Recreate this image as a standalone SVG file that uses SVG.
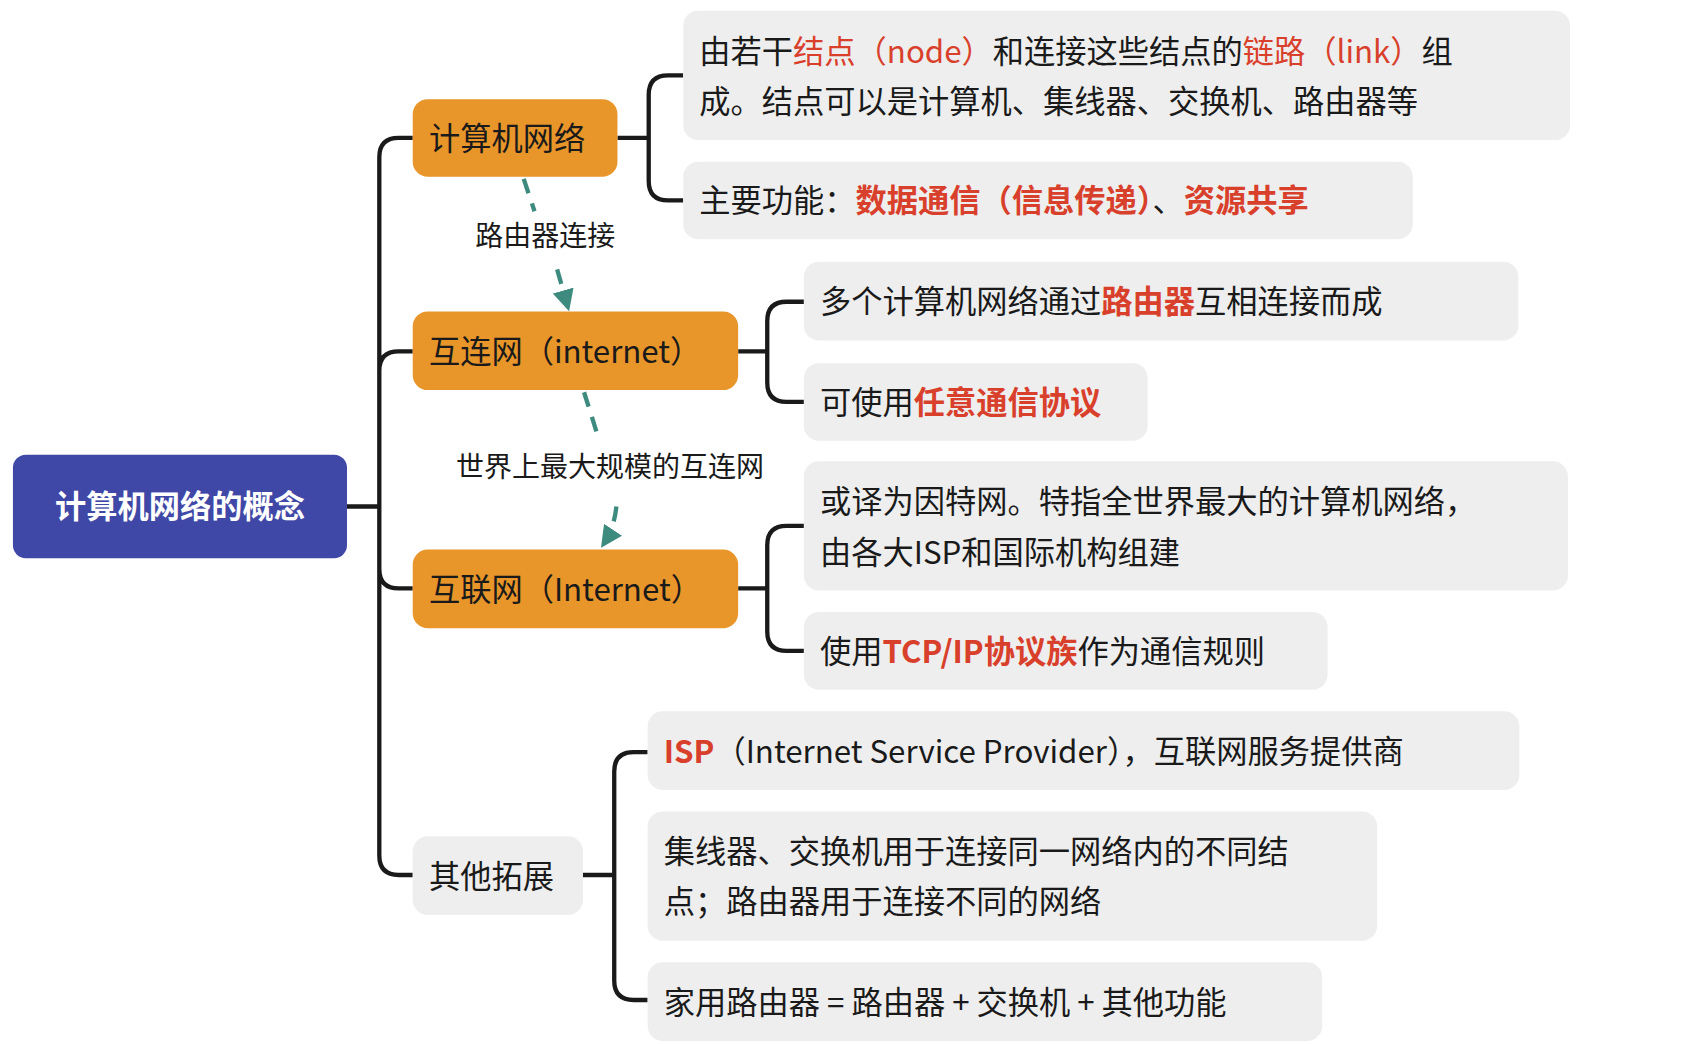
<svg xmlns="http://www.w3.org/2000/svg" width="1682" height="1044" viewBox="0 0 1682 1044">
<style>
text{font-family:"Noto Sans CJK SC","Noto Sans",sans-serif;fill:#1a1a1a}
.lf{font-size:29px}
.r{fill:#d9402b}
.b{font-weight:bold}
.leaf{fill:#eeeeee}
.org{fill:#e8952a}
.ln{fill:none;stroke:#1a1a1a;stroke-width:4}
.da{fill:none;stroke:#3d8a7e;stroke-width:4;stroke-dasharray:14 10}
.lb{font-size:26px}
</style>
<defs><marker id="ar" viewBox="0 0 10 10" refX="8" refY="5" markerWidth="5" markerHeight="5" orient="auto"><path d="M0,0L10,5L0,10z" fill="#3d8a7e"/></marker></defs>
<rect width="1682" height="1044" fill="#fff"/>
<g transform="scale(1.0776)">
<g id="connectors">
<path class="ln" d="M322,470H352M352,470V146Q352,128 370,128H383M352,470V344Q352,326 370,326H383M352,470V528Q352,546 370,546H383M352,470V794Q352,812 370,812H383"/>
<path class="ln" d="M573,128H602M602,128V88Q602,70 620,70H634M602,128V168Q602,186 620,186H634"/>
<path class="ln" d="M685,326H712M712,326V298Q712,280 730,280H746M712,326V355Q712,373 730,373H746"/>
<path class="ln" d="M685,546H712M712,546V506Q712,488 730,488H746M712,546V586Q712,604 730,604H746"/>
<path class="ln" d="M541,812H570M570,812V716Q570,698 588,698H601M570,812V910Q570,928 588,928H601"/>
<path class="da" d="M486,166L496,196"/>
<path class="da" d="M517,250L527,285" marker-end="url(#ar)"/>
<path class="da" d="M542,364L554,402"/>
<path class="da" d="M572,470Q570,490 560,505" marker-end="url(#ar)"/>
<text class="lb" x="506" y="228" text-anchor="middle">路由器连接</text>
<text class="lb" x="566" y="443" text-anchor="middle">世界上最大规模的互连网</text>
</g>
<g id="root"><rect x="12" y="422" width="310" height="96" rx="12" fill="#3f48a6"/><text x="167" y="481" text-anchor="middle" font-size="29" font-weight="bold" style="fill:#fff">计算机网络的概念</text></g>
<g id="n1"><rect class="org" x="383" y="92" width="190" height="72" rx="14"/><text x="398" y="139" font-size="29">计算机网络</text></g>
<g id="n2"><rect class="org" x="383" y="289" width="302" height="73" rx="14"/><text x="398" y="337" font-size="29">互连网（internet）</text></g>
<g id="n3"><rect class="org" x="383" y="510" width="302" height="73" rx="14"/><text x="398" y="558" font-size="29">互联网（Internet）</text></g>
<g id="n4"><rect class="leaf" x="383" y="776" width="158" height="73" rx="14"/><text x="398" y="824" font-size="29">其他拓展</text></g>
<g id="l1"><rect class="leaf" x="634" y="10" width="823" height="120" rx="14"/><text class="lf" x="649" y="58">由若干<tspan class="r">结点（node）</tspan>和连接这些结点的<tspan class="r">链路（link）</tspan>组</text><text class="lf" x="649" y="105">成。结点可以是计算机、集线器、交换机、路由器等</text></g>
<g id="l2"><rect class="leaf" x="634" y="150" width="677" height="72" rx="14"/><text class="lf" x="649" y="197">主要功能：<tspan class="r b">数据通信（信息传递）</tspan>、<tspan class="r b">资源共享</tspan></text></g>
<g id="l3"><rect class="leaf" x="746" y="243" width="663" height="73" rx="14"/><text class="lf" x="761" y="290">多个计算机网络通过<tspan class="r b">路由器</tspan>互相连接而成</text></g>
<g id="l4"><rect class="leaf" x="746" y="337" width="319" height="72" rx="14"/><text class="lf" x="761" y="384">可使用<tspan class="r b">任意通信协议</tspan></text></g>
<g id="l5"><rect class="leaf" x="746" y="428" width="709" height="120" rx="14"/><text class="lf" x="761" y="476">或译为因特网。特指全世界最大的计算机网络，</text><text class="lf" x="761" y="523">由各大ISP和国际机构组建</text></g>
<g id="l6"><rect class="leaf" x="746" y="568" width="486" height="72" rx="14"/><text class="lf" x="761" y="615">使用<tspan class="r b">TCP/IP协议族</tspan>作为通信规则</text></g>
<g id="l7"><rect class="leaf" x="601" y="660" width="809" height="73" rx="14"/><text class="lf" x="616" y="708"><tspan class="r b">ISP</tspan>（Internet Service Provider），互联网服务提供商</text></g>
<g id="l8"><rect class="leaf" x="601" y="753" width="677" height="120" rx="14"/><text class="lf" x="616" y="801">集线器、交换机用于连接同一网络内的不同结</text><text class="lf" x="616" y="847">点；路由器用于连接不同的网络</text></g>
<g id="l9"><rect class="leaf" x="601" y="893" width="626" height="73" rx="14"/><text class="lf" x="616" y="941">家用路由器 = 路由器 + 交换机 + 其他功能</text></g>
</g>
</svg>
